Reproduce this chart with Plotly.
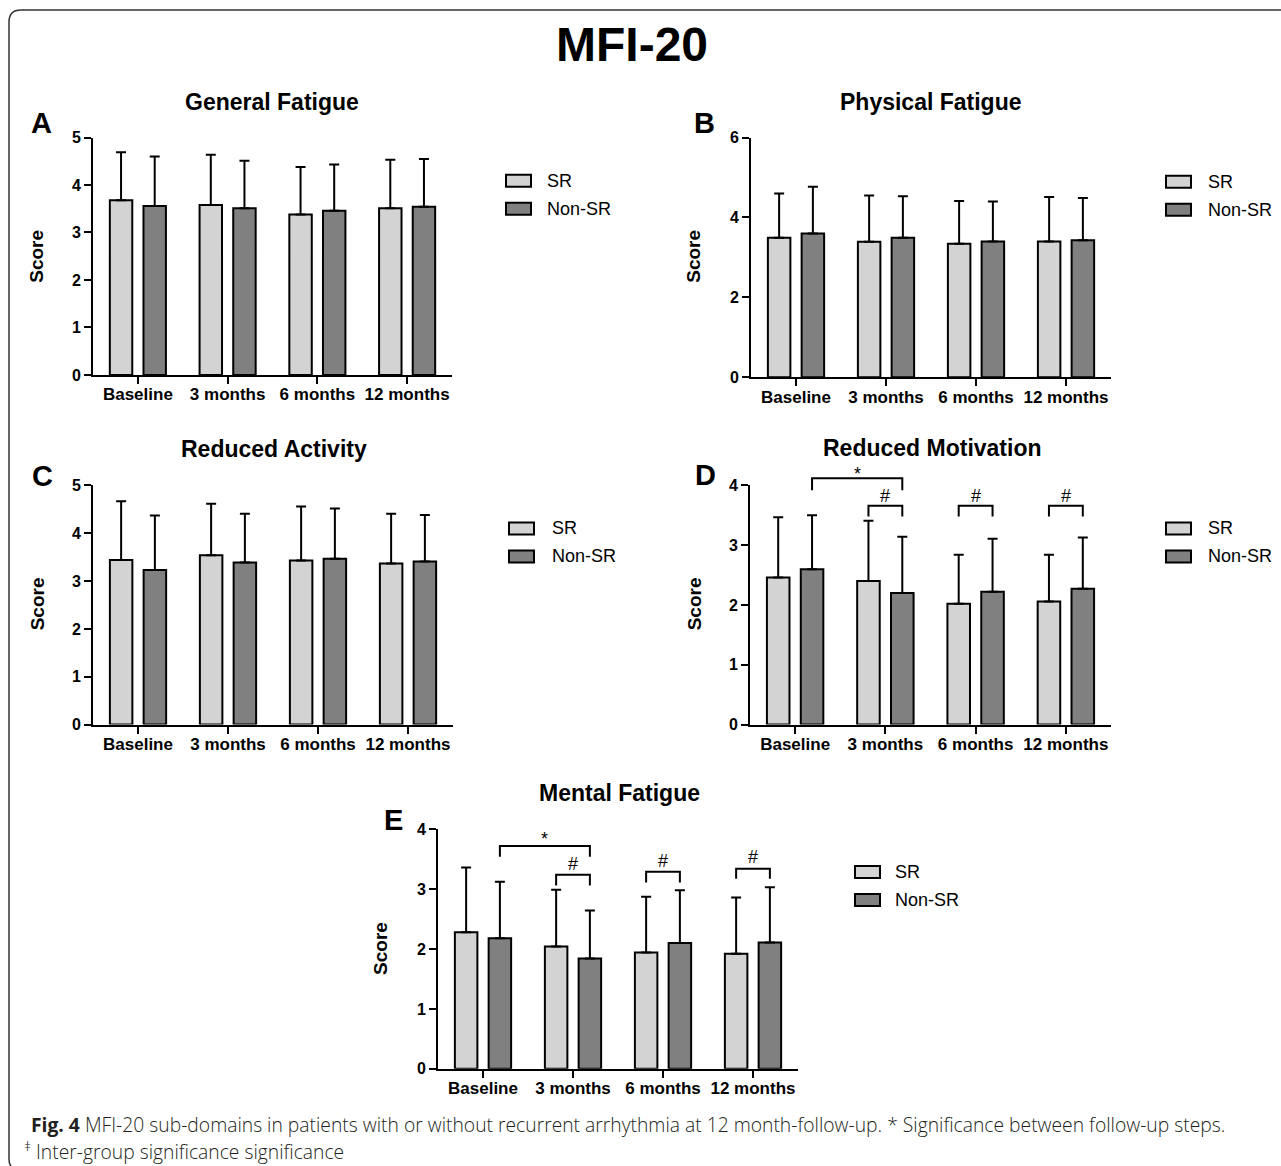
import plotly.graph_objects as go

W, H = 1281, 1166

# ---------------- data ----------------
categories = ["Baseline", "3 months", "6 months", "12 months"]
groups = ["SR", "Non-SR"]
panel_titles = ["General Fatigue", "Physical Fatigue", "Reduced Activity",
                "Reduced Motivation", "Mental Fatigue"]
panel_letters = ["A", "B", "C", "D", "E"]

general_sr_mean = [3.68, 3.58, 3.38, 3.51]
general_sr_sd = [1.01, 1.06, 1.00, 1.02]
general_non_mean = [3.56, 3.51, 3.46, 3.54]
general_non_sd = [1.04, 1.00, 0.97, 1.01]

physical_sr_mean = [3.49, 3.39, 3.34, 3.40]
physical_sr_sd = [1.11, 1.16, 1.07, 1.11]
physical_non_mean = [3.60, 3.49, 3.40, 3.43]
physical_non_sd = [1.17, 1.04, 1.00, 1.06]

activity_sr_mean = [3.44, 3.54, 3.43, 3.37]
activity_sr_sd = [1.23, 1.08, 1.13, 1.04]
activity_non_mean = [3.23, 3.39, 3.47, 3.41]
activity_non_sd = [1.14, 1.02, 1.05, 0.97]

motivation_sr_mean = [2.46, 2.40, 2.02, 2.06]
motivation_sr_sd = [1.01, 1.01, 0.82, 0.78]
motivation_non_mean = [2.60, 2.20, 2.22, 2.27]
motivation_non_sd = [0.90, 0.94, 0.89, 0.86]

mental_sr_mean = [2.28, 2.04, 1.94, 1.92]
mental_sr_sd = [1.08, 0.95, 0.93, 0.94]
mental_non_mean = [2.18, 1.84, 2.10, 2.11]
mental_non_sd = [0.94, 0.80, 0.88, 0.92]

y_max = [5, 6, 5, 4, 4]
y_dtick = [1, 2, 1, 1, 1]

# significance brackets: (cat left, group left, cat right, group right, top, leg end, label, label y)
motivation_sig = [
    ("Baseline", "Non-SR", "3 months", "Non-SR", 4.12, 3.92, "*", 4.20),
    ("3 months", "SR", "3 months", "Non-SR", 3.66, 3.48, "#", 3.82),
    ("6 months", "SR", "6 months", "Non-SR", 3.66, 3.48, "#", 3.82),
    ("12 months", "SR", "12 months", "Non-SR", 3.66, 3.48, "#", 3.82),
]
mental_sig = [
    ("Baseline", "Non-SR", "3 months", "Non-SR", 3.72, 3.54, "*", 3.84),
    ("3 months", "SR", "3 months", "Non-SR", 3.24, 3.06, "#", 3.42),
    ("6 months", "SR", "6 months", "Non-SR", 3.29, 3.11, "#", 3.47),
    ("12 months", "SR", "12 months", "Non-SR", 3.34, 3.17, "#", 3.53),
]

caption_line1 = "<b>Fig. 4</b> MFI-20 sub-domains in patients with or without recurrent arrhythmia at 12 month-follow-up. * Significance between follow-up steps."
caption_line2 = "<sup>ǂ</sup> Inter-group significance significance"

series = [
    (general_sr_mean, general_sr_sd, general_non_mean, general_non_sd),
    (physical_sr_mean, physical_sr_sd, physical_non_mean, physical_non_sd),
    (activity_sr_mean, activity_sr_sd, activity_non_mean, activity_non_sd),
    (motivation_sr_mean, motivation_sr_sd, motivation_non_mean, motivation_non_sd),
    (mental_sr_mean, mental_sr_sd, mental_non_mean, mental_non_sd),
]
significance = [[], [], [], motivation_sig, mental_sig]

# ---------------- layout (target pixels) ----------------
layout_px = [
    dict(x0=93, x1=452, ybot=375.3, ytop=137.7, title=(272, 102), letter=(41, 123),
         score=(37, 257), legend=(506, 181, 545)),
    dict(x0=751, x1=1111, ybot=377.7, ytop=137.7, title=(931, 102), letter=(704, 123),
         score=(694, 257), legend=(1166, 182, 1206)),
    dict(x0=93, x1=453, ybot=725.3, ytop=486, title=(274, 449), letter=(42, 477),
         score=(37, 605), legend=(509, 529, 550)),
    dict(x0=750, x1=1111, ybot=725.3, ytop=486, title=(932, 448), letter=(706, 476),
         score=(694, 605), legend=(1166, 529, 1206)),
    dict(x0=438, x1=798, ybot=1070, ytop=830, title=(619, 794), letter=(393, 821),
         score=(381, 950), legend=(855, 873, 893)),
]

FONT = "Liberation Sans, Arial, sans-serif"
SR_COLOR = "#d3d3d3"
NON_COLOR = "#808080"
BARGAP = 0.25
BARGROUPGAP = 1 / 3
OFF = (1 - BARGAP) / 4

# the page view adds a small vertical offset/compression; compensate it
V_OFF = 8.0
V_SCALE = 0.9865


def fx(px):
    return px / W


def fy(py):
    t = (py - V_OFF) / V_SCALE
    return 1 - t / H


fig = go.Figure()
shapes = []
annotations = []

for i, (sr_m, sr_sd, non_m, non_sd) in enumerate(series):
    n = i + 1
    xa = "x" if n == 1 else f"x{n}"
    ya = "y" if n == 1 else f"y{n}"
    for name, m, sd, col in [("SR", sr_m, sr_sd, SR_COLOR), ("Non-SR", non_m, non_sd, NON_COLOR)]:
        fig.add_trace(go.Bar(
            x=categories, y=m, name=name, showlegend=False,
            marker=dict(color=col, line=dict(color="black", width=2)),
            error_y=dict(type="data", array=sd, arrayminus=[0] * len(sd), symmetric=False,
                         color="black", thickness=2, width=5),
            xaxis=xa, yaxis=ya,
        ))
    L = layout_px[i]
    ax_common = dict(showgrid=False, zeroline=False, showline=True, linecolor="black",
                     linewidth=2, ticks="outside", tickcolor="black", tickwidth=2, ticklen=7)
    fig.update_layout(**{
        ("xaxis" if n == 1 else f"xaxis{n}"): dict(
            domain=[fx(L["x0"]), fx(L["x1"])], anchor=ya, type="category",
            categoryorder="array", categoryarray=categories, range=[-0.5, 3.5],
            tickfont=dict(family=FONT, size=17, color="black", weight="bold"),
            ticklabelstandoff=-4, **ax_common),
        ("yaxis" if n == 1 else f"yaxis{n}"): dict(
            domain=[fy(L["ybot"]), fy(L["ytop"])], anchor=xa, range=[0, y_max[i]],
            dtick=y_dtick[i], tick0=0,
            tickfont=dict(family=FONT, size=16, color="black", weight="bold"),
            **ax_common),
    })
    # titles, letters, y labels
    annotations.append(dict(text=f"<b>{panel_titles[i]}</b>", x=fx(L["title"][0]), y=fy(L["title"][1]),
                            xref="paper", yref="paper", showarrow=False, xanchor="center",
                            yanchor="middle", font=dict(family=FONT, size=23, color="black")))
    annotations.append(dict(text=f"<b>{panel_letters[i]}</b>", x=fx(L["letter"][0]), y=fy(L["letter"][1]),
                            xref="paper", yref="paper", showarrow=False, xanchor="center",
                            yanchor="middle", font=dict(family=FONT, size=29, color="black")))
    annotations.append(dict(text="<b>Score</b>", x=fx(L["score"][0]), y=fy(L["score"][1]),
                            xref="paper", yref="paper", showarrow=False, xanchor="center",
                            yanchor="middle", textangle=-90,
                            font=dict(family=FONT, size=19, color="black")))
    # legend (manual)
    lx, ly, tx = L["legend"]
    for k, (name, col) in enumerate([("SR", SR_COLOR), ("Non-SR", NON_COLOR)]):
        cy = ly + k * 28
        shapes.append(dict(type="rect", xref="paper", yref="paper",
                           x0=fx(lx), x1=fx(lx + 25), y0=fy(cy + 6), y1=fy(cy - 6),
                           fillcolor=col, line=dict(color="black", width=2)))
        annotations.append(dict(text=name, x=fx(tx), y=fy(cy), xref="paper", yref="paper",
                                showarrow=False, xanchor="left", yanchor="middle",
                                font=dict(family=FONT, size=18, color="black")))
    # significance brackets
    for (c0, g0, c1, g1, top, leg, lab, laby) in significance[i]:
        xl = categories.index(c0) + (-OFF if g0 == "SR" else OFF)
        xr = categories.index(c1) + (-OFF if g1 == "SR" else OFF)
        yd = f"{ya} domain"
        ym = y_max[i]
        path = (f"M {xl},{leg / ym} L {xl},{top / ym} L {xr},{top / ym} L {xr},{leg / ym}")
        shapes.append(dict(type="path", xref=xa, yref=yd, path=path,
                           line=dict(color="black", width=2)))
        annotations.append(dict(text=lab, x=(xl + xr) / 2, y=laby / ym, xref=xa, yref=yd,
                                showarrow=False, xanchor="center", yanchor="middle",
                                font=dict(family=FONT, size=18, color="black")))

# main title
annotations.append(dict(text="<b>MFI-20</b>", x=fx(632), y=fy(45), xref="paper", yref="paper",
                        showarrow=False, xanchor="center", yanchor="middle",
                        font=dict(family=FONT, size=48, color="black")))
# caption
CAP_FONT = "Open Sans, Noto Sans, sans-serif"
annotations.append(dict(text=caption_line1, x=fx(29), y=fy(1126), xref="paper", yref="paper",
                        showarrow=False, xanchor="left", yanchor="middle",
                        font=dict(family=CAP_FONT, size=19.3, color="#231f20", weight=300)))
annotations.append(dict(text=caption_line2, x=fx(22), y=fy(1152), xref="paper", yref="paper",
                        showarrow=False, xanchor="left", yanchor="middle",
                        font=dict(family=CAP_FONT, size=19.3, color="#231f20", weight=300)))

# rounded border
r = 12
bx, by, bb = 9, 10, 1172
border = (f"M {fx(1300)},{fy(by)} L {fx(bx + r)},{fy(by)} Q {fx(bx)},{fy(by)} {fx(bx)},{fy(by + r)} "
          f"L {fx(bx)},{fy(bb - r)} Q {fx(bx)},{fy(bb)} {fx(bx + r)},{fy(bb)} L {fx(1300)},{fy(bb)}")
shapes.append(dict(type="path", xref="paper", yref="paper", path=border,
                   line=dict(color="#333333", width=1.5)))

fig.update_layout(
    width=W, height=H, margin=dict(l=0, r=0, t=0, b=0),
    paper_bgcolor="white", plot_bgcolor="white",
    barmode="group", bargap=BARGAP, bargroupgap=BARGROUPGAP,
    showlegend=False, shapes=shapes, annotations=annotations,
)

fig.write_html("out.html")
